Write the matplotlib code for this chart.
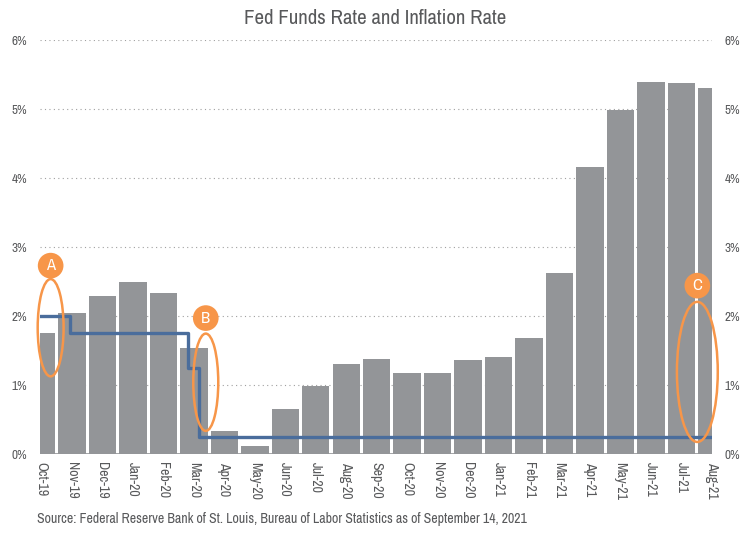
import numpy as np
import matplotlib.pyplot as plt
from matplotlib import font_manager
from matplotlib.patches import Ellipse

# Buscar una fuente estrecha instalada
nombres = sorted({f.name for f in font_manager.fontManager.ttflist})
estrechas = [n for n in nombres if 'Condensed' in n or 'Narrow' in n]
fuente = estrechas[0] if estrechas else 'Lato'
plt.rcParams['font.family'] = [fuente, 'DejaVu Sans']

# Datos
meses = ['Oct-19', 'Nov-19', 'Dec-19', 'Jan-20', 'Feb-20', 'Mar-20', 'Apr-20',
         'May-20', 'Jun-20', 'Jul-20', 'Aug-20', 'Sep-20', 'Oct-20', 'Nov-20',
         'Dec-20', 'Jan-21', 'Feb-21', 'Mar-21', 'Apr-21', 'May-21', 'Jun-21',
         'Jul-21', 'Aug-21']
inflacion = [1.76, 2.05, 2.29, 2.49, 2.33, 1.54, 0.33, 0.12, 0.65, 0.99, 1.31,
             1.37, 1.18, 1.17, 1.36, 1.40, 1.68, 2.62, 4.16, 4.99, 5.39, 5.37, 5.30]

# Fed funds (limite superior), cambios en posicion fraccional de mes
fed_x = [-0.05, 0.95, 4.8, 5.17, 22.0]
fed_y = [2.00, 1.75, 1.25, 0.25, 0.25]

# Marcas A, B, C: [x, y, ancho, alto, y de la etiqueta]
marcas = {
    'A': [0.3, 1.83, 0.85, 1.41, 2.73],
    'B': [5.39, 1.04, 0.82, 1.41, 1.97],
    'C': [21.52, 1.19, 1.34, 2.03, 2.44],
}

gris = '#939598'
azul = '#4a6d9c'
naranja = '#f79649'
texto = '#58595b'

fig = plt.figure(figsize=(7.5, 5.35), dpi=100)
ax = fig.add_axes([0.0533, 0.1514, 0.896, 0.7738])

x = np.arange(len(meses))
ax.bar(x, inflacion, width=0.9, color=gris, zorder=2)
ax.axhline(0, color=gris, lw=1.2, zorder=2)
ax.step(fed_x, fed_y, where='post', color=azul, lw=2.4, zorder=3)

for letra, (ex, ey, w, h, ly) in marcas.items():
    e = Ellipse((ex, ey), w, h, fill=False, ec=naranja, lw=1.8, zorder=4, clip_on=False)
    ax.add_patch(e)
    ax.text(ex, ly, letra, ha='center', va='center', color='white', fontsize=12,
            fontweight='bold', zorder=5,
            bbox=dict(boxstyle='circle,pad=0.32', fc=naranja, ec='none'))

ax.set_xlim(-0.05, 22.0)
ax.set_ylim(0, 6)
ax.set_yticks(range(7))
ax.set_yticklabels([f'{i}%' for i in range(7)])
ax.set_xticks(x)
ax.set_xticklabels(meses, rotation=-90, fontsize=10, color=texto)
ax.tick_params(axis='y', length=0, labelsize=9.5, labelcolor=texto, pad=9,
               labelright=True)
ax.tick_params(axis='x', length=0, pad=6)
ax.grid(axis='y', linestyle=(0, (1, 3)), color='#a0a0a0', lw=0.8, zorder=0)
for s in ax.spines.values():
    s.set_visible(False)

fig.text(0.5, 0.965, 'Fed Funds Rate and Inflation Rate', ha='center', va='center',
         fontsize=15, color=texto)
fig.text(0.049, 0.03, 'Source: Federal Reserve Bank of St. Louis, Bureau of Labor '
         'Statistics as of September 14, 2021', ha='left', va='center',
         fontsize=10, color=texto)

fig.savefig('out.png', dpi=100)
